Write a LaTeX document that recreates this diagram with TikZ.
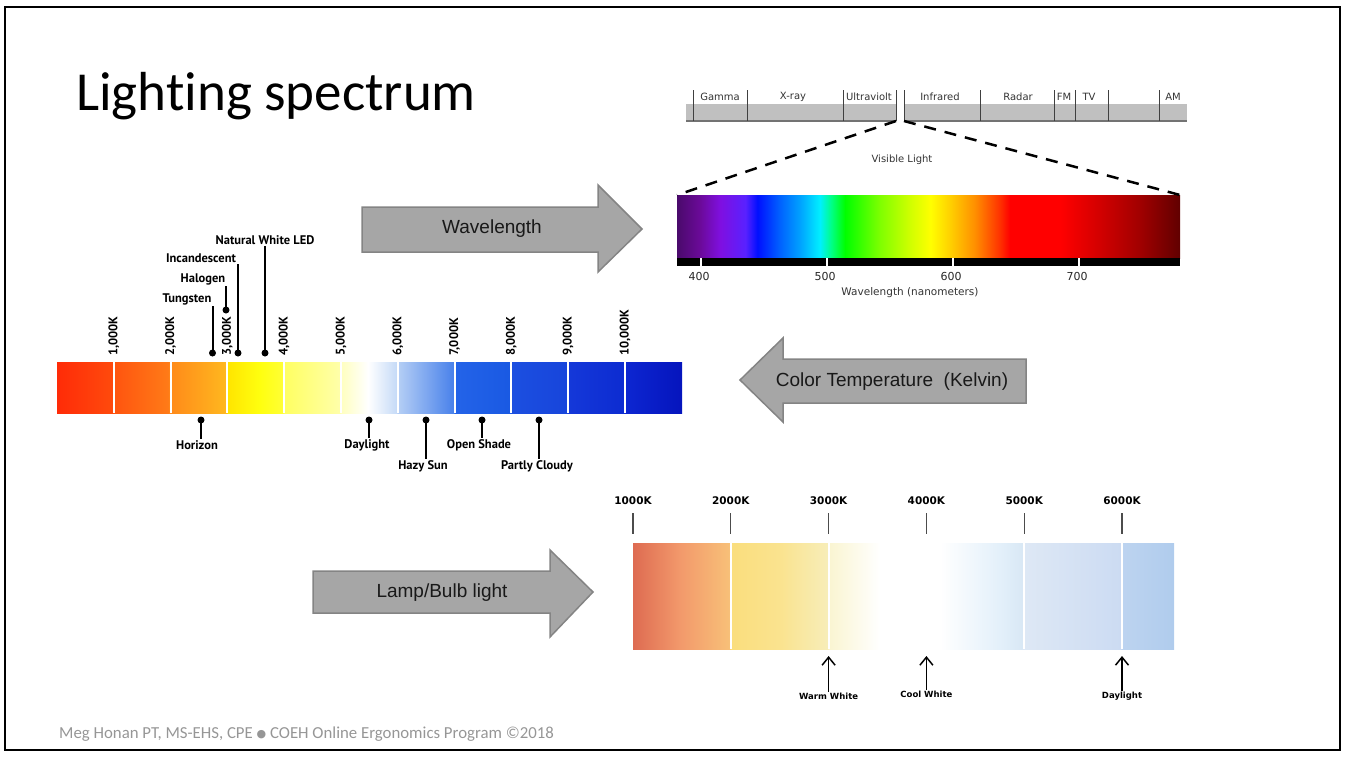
\documentclass[tikz,border=0pt]{standalone}
\usepackage{fontspec}
\usepackage{tikz}
\usepackage{xcolor}
\usetikzlibrary{arrows.meta,positioning,calc}
\setmainfont{Carlito}[Ligatures=NoCommon]
\newfontfamily\arialfont{Liberation Sans}
\newfontfamily\verdfont{DejaVu Sans}
\newfontfamily\myrfont{PT Sans}
\definecolor{arrowGray}{RGB}{166,166,166}
\definecolor{arrowEdge}{RGB}{132,132,132}
\definecolor{emGray}{RGB}{192,192,192}
\definecolor{footGray}{RGB}{150,150,150}
% visible light, 380--780 nm
\pgfdeclarehorizontalshading{visspec}{100bp}{%
rgb(0bp)=(0.29,0.04,0.42); rgb(25bp)=(0.29,0.04,0.42);%
rgb(27.3bp)=(0.42,0.04,0.6); rgb(29.3bp)=(0.5,0.06,0.88);%
rgb(31.8bp)=(0.35,0.13,1); rgb(33bp)=(0,0.06,1);%
rgb(35.2bp)=(0,0.38,1); rgb(37.2bp)=(0,0.63,1);%
rgb(39.2bp)=(0,0.94,1); rgb(40.4bp)=(0,1,0.5);%
rgb(41.7bp)=(0,1,0); rgb(45.2bp)=(0.5,1,0);%
rgb(48.2bp)=(0.82,1,0); rgb(50.2bp)=(1,1,0);%
rgb(52.1bp)=(1,0.82,0); rgb(54.6bp)=(1,0.56,0);%
rgb(57.1bp)=(1,0.19,0); rgb(58.1bp)=(1,0,0);%
rgb(63.1bp)=(1,0,0); rgb(67.1bp)=(0.82,0,0);%
rgb(71bp)=(0.63,0,0); rgb(75bp)=(0.38,0,0); rgb(100bp)=(0.38,0,0)}
% colour temperature bar, 0--11000 K
\pgfdeclarehorizontalshading{ktspec}{100bp}{%
rgb(0bp)=(1,0.17,0.03); rgb(25bp)=(1,0.17,0.03);%
rgb(29.4bp)=(1,0.29,0.05); rgb(29.56bp)=(1,0.33,0.06);%
rgb(33.88bp)=(1,0.48,0.09); rgb(34.04bp)=(1,0.54,0.1);%
rgb(38.52bp)=(1,0.72,0.12); rgb(38.68bp)=(1,0.9,0);%
rgb(41.24bp)=(1,1,0.06); rgb(43bp)=(1,1,0.2);%
rgb(43.16bp)=(1,1,0.38); rgb(47.56bp)=(1,1,0.66);%
rgb(47.72bp)=(1,1,0.75); rgb(49.88bp)=(1,1,1);%
rgb(52.12bp)=(0.78,0.86,0.97); rgb(52.28bp)=(0.71,0.81,0.96);%
rgb(56.68bp)=(0.29,0.51,0.92); rgb(56.84bp)=(0.14,0.39,0.91);%
rgb(61.24bp)=(0.1,0.35,0.89); rgb(61.4bp)=(0.11,0.31,0.88);%
rgb(65.8bp)=(0.09,0.27,0.86); rgb(65.96bp)=(0.08,0.22,0.85);%
rgb(70.36bp)=(0.05,0.17,0.82); rgb(70.52bp)=(0.05,0.15,0.82);%
rgb(75bp)=(0.02,0.08,0.74); rgb(100bp)=(0.02,0.08,0.74)}
% lamp / bulb light
\pgfdeclarehorizontalshading{lampspec}{100bp}{%
rgb(0bp)=(0.87,0.42,0.32); rgb(25bp)=(0.87,0.42,0.32);%
rgb(29.34bp)=(0.95,0.6,0.42); rgb(33.87bp)=(0.97,0.75,0.47);%
rgb(34.06bp)=(0.98,0.87,0.49); rgb(38.59bp)=(0.98,0.89,0.56);%
rgb(42.93bp)=(0.97,0.93,0.72); rgb(43.11bp)=(0.98,0.96,0.82);%
rgb(47.83bp)=(1,1,1); rgb(53.37bp)=(1,1,1);%
rgb(58.92bp)=(0.89,0.94,0.98); rgb(60.95bp)=(0.85,0.91,0.96);%
rgb(61.14bp)=(0.87,0.91,0.96); rgb(70.01bp)=(0.8,0.86,0.95);%
rgb(70.2bp)=(0.74,0.83,0.94); rgb(75bp)=(0.69,0.8,0.93); rgb(100bp)=(0.69,0.8,0.93)}

\begin{document}
\begin{tikzpicture}[x=1pt, y=-1pt,
    blockarrow/.style={fill=arrowGray, draw=arrowEdge, line width=1.5pt},
    arrowtext/.style={font=\arialfont\fontsize{19}{22}\selectfont, text=black!90},
    emlabel/.style={font=\verdfont\fontsize{10}{12}\selectfont, text=black!80, inner sep=0pt},
    nmlabel/.style={font=\verdfont\fontsize{11}{13}\selectfont, text=black!85, inner sep=0pt},
    klabel/.style={font=\myrfont\bfseries\fontsize{12.5}{14}\selectfont, rotate=90, anchor=west, inner sep=1pt},
    srclabel/.style={font=\myrfont\bfseries\fontsize{12.5}{14}\selectfont, inner sep=1pt},
    lead/.style={line width=2pt},
    lampk/.style={font=\verdfont\bfseries\fontsize{10.5}{12}\selectfont, inner sep=0pt},
    lamplabel/.style={font=\verdfont\bfseries\fontsize{8.5}{10}\selectfont, inner sep=1pt},
    sep/.style={white, line width=2pt},
    visdash/.style={line width=2.5pt, dash pattern=on 12pt off 9pt},
    pointer/.style={line width=1.5pt, -{Straight Barb[length=8pt, width=13pt]}}
  ]
  \useasboundingbox (0,0) rectangle (1347,756);
  \draw[line width=2.5pt] (5,7) rectangle (1340,750);

  \node[anchor=base west, font=\fontsize{55}{60}\selectfont, inner sep=0pt] (title) at (76,110) {Lighting spectrum};

  % electromagnetic spectrum
  \fill[emGray] (686,104) rectangle (896,121);
  \fill[emGray] (904,104) rectangle (1187,121);
  \draw[black!55, line width=1.2pt] (686,121) -- (896,121) (904,121) -- (1187,121);
  \foreach \x in {693,747,843,896,904,980,1054,1075,1108,1159}
    \draw[black!75, line width=1pt] (\x,90) -- (\x,121);
  \foreach \x/\lab in {720/Gamma, 793/X-ray, 869/Ultraviolt, 940/Infrared, 1018/Radar, 1064/FM, 1089/TV, 1173/AM}
    \node[emlabel] (em\x) at (\x,97) {\lab};
  \coordinate (gapL) at (896,121);
  \coordinate (gapR) at (904,121);

  % visible light
  \node[shade, shading=visspec, inner sep=0pt, outer sep=0pt, minimum width=503pt, minimum height=63pt] (vis) at (928.5,226.5) {};
  \node[fill=black, inner sep=0pt, outer sep=0pt, minimum width=503pt, minimum height=8pt] (nmstrip) at (928.5,262) {};
  \draw[visdash] (gapL) -- (vis.north west);
  \draw[visdash] (gapR) -- (vis.north east);
  \node[emlabel] (vislab) at (902,160) {Visible Light};
  \foreach \x/\nm in {701/400, 827/500, 953/600, 1079/700} {
    \draw[white, line width=1.5pt] (\x,258) -- (\x,266);
    \node[nmlabel] (nm\nm) at (\x-2,276) {\nm};
  }
  \node[emlabel, font=\verdfont\fontsize{10.5}{12}\selectfont] (nmaxis) at (910,293) {Wavelength (nanometers)};

  % block arrows
  \draw[blockarrow] (362,207) -- (598,207) -- (598,185) -- (642,229) -- (598,272) -- (598,252) -- (362,252) -- cycle;
  \node[arrowtext] (wavel) at (492,229) {Wavelength};
  \draw[blockarrow] (1026,359) -- (783,359) -- (783,338) -- (740,380) -- (783,422) -- (783,403) -- (1026,403) -- cycle;
  \node[arrowtext] (colt) at (892,382) {Color Temperature\ \ (Kelvin)};
  \draw[blockarrow] (313,571) -- (550,571) -- (550,550) -- (593,592) -- (550,637) -- (550,613) -- (313,613) -- cycle;
  \node[arrowtext] (lamp) at (442,593) {Lamp/Bulb light};

  % colour temperature bar
  \node[shade, shading=ktspec, inner sep=0pt, outer sep=0pt, minimum width=625pt, minimum height=51pt] (ktbar) at (369.5,387.5) {};
  \foreach \i in {1,...,10} {
    \draw[sep] (57+56.8*\i,362) -- (57+56.8*\i,413);
    \node[klabel] (k\i) at (57+56.8*\i,357) {\i,000K};
  }

  % light sources above
  \coordinate (dTung) at (212.5,353);
  \coordinate (dHalo) at (226,310);
  \coordinate (dInca) at (238,353);
  \coordinate (dLed) at (265,353);
  \node[srclabel] (tung) at (187,299) {Tungsten};
  \node[srclabel] (halo) at (203,279) {Halogen};
  \node[srclabel] (inca) at (201,258) {Incandescent};
  \node[srclabel] (led) at (265,240) {Natural White LED};
  \fill (dTung) circle (3.5pt) (dHalo) circle (3.5pt) (dInca) circle (3.5pt) (dLed) circle (3.5pt);
  \draw[lead] (dTung) -- (dTung |- tung.south);
  \draw[lead] (dHalo) -- (dHalo |- halo.south);
  \draw[lead] (dInca) -- (dInca |- inca.south);
  \draw[lead] (dLed) -- (dLed |- led.south);

  % natural light below
  \coordinate (dHori) at (201,420);
  \coordinate (dDay) at (369,420);
  \coordinate (dHazy) at (426,420);
  \coordinate (dShade) at (482,420);
  \coordinate (dCloud) at (539,420);
  \node[srclabel] (hori) at (197,445) {Horizon};
  \node[srclabel] (day) at (367,445) {Daylight};
  \node[srclabel] (hazy) at (423,466) {Hazy Sun};
  \node[srclabel] (shade) at (479,445) {Open Shade};
  \node[srclabel] (cloud) at (537,466) {Partly Cloudy};
  \fill (dHori) circle (3.5pt) (dDay) circle (3.5pt) (dHazy) circle (3.5pt) (dShade) circle (3.5pt) (dCloud) circle (3.5pt);
  \draw[lead] (dHori) -- (dHori |- hori.north);
  \draw[lead] (dDay) -- (dDay |- day.north);
  \draw[lead] (dHazy) -- (dHazy |- hazy.north);
  \draw[lead] (dShade) -- (dShade |- shade.north);
  \draw[lead] (dCloud) -- (dCloud |- cloud.north);

  % lamp bar
  \node[shade, shading=lampspec, inner sep=0pt, outer sep=0pt, minimum width=541pt, minimum height=106pt] (lampbar) at (903.5,596) {};
  \foreach \i in {0,...,5} {
    \pgfmathtruncatemacro{\kk}{\i+1}
    \draw[black!70, line width=1.2pt] (633+97.8*\i,513) -- (633+97.8*\i,534);
    \node[lampk] (lk\i) at (633+97.8*\i,501) {\kk000K};
  }
  \foreach \i in {1,...,5}
    \draw[sep] (633+97.8*\i,543) -- (633+97.8*\i,649);
  \coordinate (tWarm) at (828.6,656);
  \coordinate (tCool) at (926.4,656);
  \coordinate (tDay) at (1122,656);
  \node[lamplabel] (warm) at (828.6,696) {Warm White};
  \node[lamplabel] (cool) at (926.4,694) {Cool White};
  \node[lamplabel] (lday) at (1122,696) {Daylight};
  \draw[pointer] (warm.north) -- (tWarm);
  \draw[pointer] (cool.north) -- (tCool);
  \draw[pointer] (lday.north) -- (tDay);

  \node[anchor=base west, font=\fontsize{16.8}{18}\selectfont, text=footGray, inner sep=0pt] (foot) at (59,738) {Meg Honan PT, MS-EHS, CPE \raisebox{0.5pt}{\verdfont\fontsize{11}{12}\selectfont ●} COEH Online Ergonomics Program ©2018};
\end{tikzpicture}
\end{document}
